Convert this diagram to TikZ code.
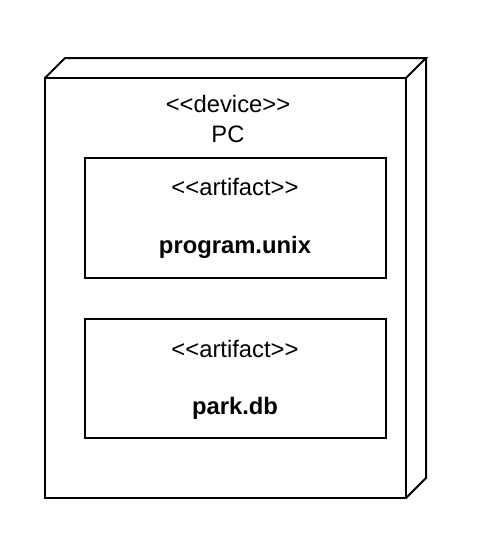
\documentclass[tikz,border=0pt]{standalone}
\usepackage{fontspec}
\setmainfont{Liberation Sans}[Ligatures=TeXOff]
\begin{document}
\begin{tikzpicture}[x=1pt,y=-1pt,
  edge/.style={draw=black,line width=2pt,line join=miter},
  lbl/.style={anchor=base,inner sep=0pt,font=\fontsize{23.8}{28}\selectfont},
  blbl/.style={lbl,font=\fontsize{23.8}{28}\selectfont\bfseries}]
\useasboundingbox[fill=white] (0,0) rectangle (478,550);
% device 3D box
\coordinate (ftl) at (45,78);
\coordinate (ftr) at (406,78);
\coordinate (fbr) at (406,498);
\coordinate (fbl) at (45,498);
\coordinate (btl) at (65,58);
\coordinate (btr) at (426,58);
\coordinate (bbr) at (426,478);
\draw[edge] (ftl) rectangle (fbr);
\draw[edge] (ftl) -- (btl) -- (btr) -- (ftr);
\draw[edge] (btr) -- (bbr) -- (fbr);
\node[lbl] (dev) at (228,112) {<<device>>};
\node[lbl] (pc) at (228,142) {PC};
% artifacts
\node[edge,minimum width=301pt,minimum height=120pt,inner sep=0pt] (a1) at (235.5,218) {};
\node[edge,minimum width=301pt,minimum height=119pt,inner sep=0pt] (a2) at (235.5,378.5) {};
\node[lbl] (s1) at (235,195) {<<artifact>>};
\node[blbl] (n1) at (235,253) {program.unix};
\node[lbl] (s2) at (235,357) {<<artifact>>};
\node[blbl] (n2) at (235,414) {park.db};
\end{tikzpicture}
\end{document}
